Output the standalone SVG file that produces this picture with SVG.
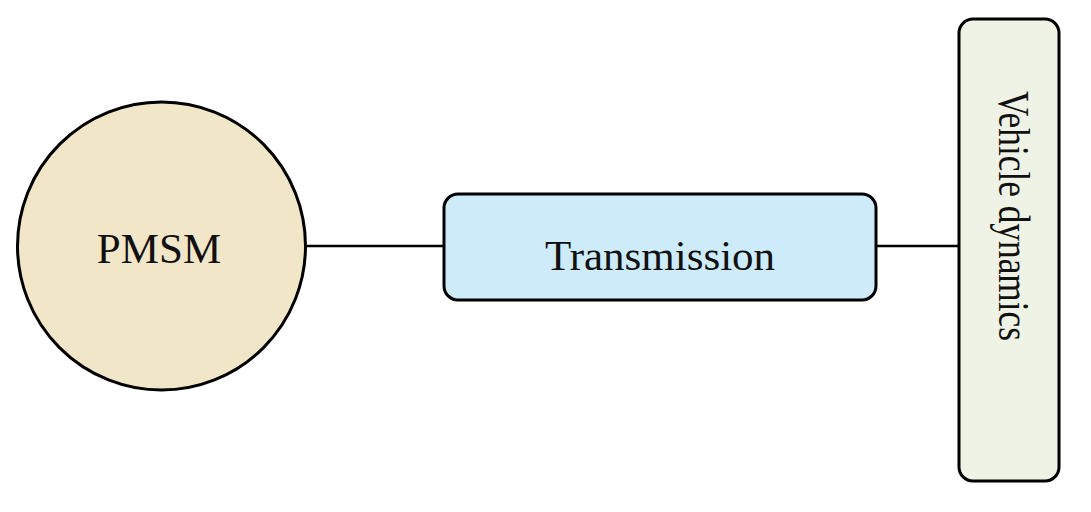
<svg xmlns="http://www.w3.org/2000/svg" width="1091" height="512" viewBox="0 0 1091 512">
<style>
.shape{stroke:#000;stroke-width:3}
.lbl{font-family:"Liberation Serif","Times New Roman",serif;fill:#111;text-anchor:middle}
.conn{stroke:#000;stroke-width:2.6;fill:none}
</style>
<rect width="1091" height="512" fill="#fff"/>
<g id="connectors">
<line class="conn" x1="305" y1="246" x2="444" y2="246"/>
<line class="conn" x1="876" y1="246" x2="959" y2="246"/>
</g>
<g id="pmsm">
<circle class="shape" cx="161.5" cy="246" r="144" fill="#F2E6C9"/>
<text class="lbl" x="159" y="263" font-size="43">PMSM</text>
</g>
<g id="transmission">
<rect class="shape" x="444" y="194" width="432" height="106" rx="14" fill="#CDEBF9"/>
<text class="lbl" x="660" y="270" font-size="43">Transmission</text>
</g>
<g id="vehicle">
<rect class="shape" x="959" y="19" width="100" height="462" rx="14" fill="#EEF3E6"/>
<text class="lbl" transform="translate(999,216) rotate(90)" x="0" y="0" font-size="44" textLength="250" lengthAdjust="spacingAndGlyphs">Vehicle dynamics</text>
</g>
</svg>
